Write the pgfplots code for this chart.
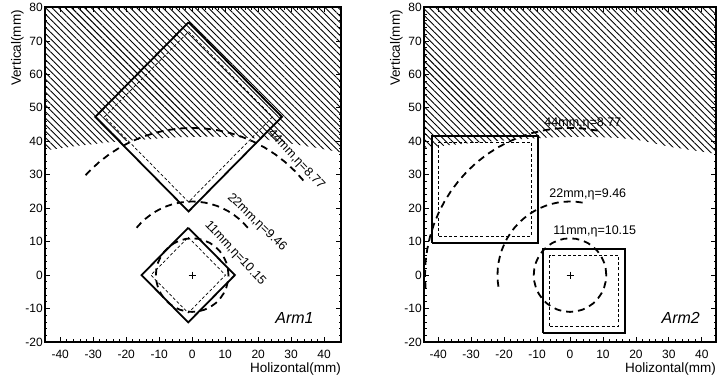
\documentclass[border=0pt]{standalone}
\usepackage{fontspec}
\setmainfont{Liberation Sans}
\usepackage{pgfplots}
\pgfplotsset{compat=1.18}
\usetikzlibrary{patterns.meta}

\pgfplotsset{
  armaxis/.style={
    scale only axis, height=334.5pt,
    ymin=-20, ymax=80,
    xtick={-40,-30,...,40}, ytick={-20,-10,...,80},
    minor x tick num=4, minor y tick num=4,
    tick align=inside, major tick length=5pt, minor tick length=2.5pt,
    every tick/.style={black, line width=0.8pt},
    axis line style={line width=2pt},
    /pgf/number format/assume math mode=true,
    ticklabel style={font=\fontsize{12}{14}\selectfont},
    xticklabel style={inner sep=0pt, yshift=-8pt},
    yticklabel style={inner sep=0pt, xshift=-2pt},
    xlabel={Holizontal(mm)}, ylabel={Vertical(mm)},
    xlabel style={at={(rel axis cs:1,0)}, anchor=north east, inner sep=0pt, yshift=-21pt, font=\fontsize{13.5}{16}\selectfont},
    ylabel style={at={(rel axis cs:0,1)}, rotate=0, anchor=east, inner sep=0pt, yshift=27.5pt, xshift=-2.5pt, font=\fontsize{13.5}{16}\selectfont},
    clip=true,
  },
  hatch/.style={draw=none, pattern={Lines[angle=-45,distance=4.6pt,line width=0.9pt]}},
  tower/.style={black, line width=1.8pt},
  fid/.style={black, line width=0.7pt, dash pattern=on 3pt off 2.2pt},
  ring/.style={black, line width=1.8pt, dash pattern=on 7pt off 5pt, data cs=polar},
}
\tikzset{
  lab/.style={font=\fontsize{12.5}{15}\selectfont, inner sep=0pt},
  armlab/.style={font=\fontsize{16}{19}\selectfont\itshape, inner sep=0pt},
}

\begin{document}
\begin{tikzpicture}
\path[use as bounding box] (-45pt,-43pt) rectangle (672pt,342pt);

% ---------------- Arm1 ----------------
\begin{axis}[armaxis, width=296pt, xmin=-44.6, xmax=45.1, at={(0pt,0pt)}, anchor=south west]
\addplot[hatch] coordinates {(-46,80) (-46,37.0) (-45,37.2) (-35,38.6) (-25,39.7) (-15,40.5) (-5,41.2) (5,41.4) (15,41.2) (22,40.6) (30,39.3) (38,38.0) (46,36.5) (46,80)};
% 40 mm tower (rotated)
\addplot[tower] coordinates {(-1.1,75.58) (27.18,47.3) (-1.1,19.02) (-29.38,47.3) (-1.1,75.58)};
\addplot[fid] coordinates {(-1.1,72.76) (24.36,47.3) (-1.1,21.84) (-26.56,47.3) (-1.1,72.76)};
% 20 mm tower (rotated)
\addplot[tower] coordinates {(-1.2,14.14) (12.94,0) (-1.2,-14.14) (-15.34,0) (-1.2,14.14)};
\addplot[fid] coordinates {(-1.2,11.31) (10.11,0) (-1.2,-11.31) (-12.51,0) (-1.2,11.31)};
% eta rings
\addplot[ring] coordinates {(40,44) (45,44) (50,44) (55,44) (60,44) (65,44) (70,44) (75,44) (80,44) (85,44) (90,44) (95,44) (100,44) (105,44) (110,44) (115,44) (120,44) (125,44) (130,44) (135,44) (138,44)};
\addplot[ring] coordinates {(40,22) (45,22) (50,22) (55,22) (60,22) (65,22) (70,22) (75,22) (80,22) (85,22) (90,22) (95,22) (100,22) (105,22) (110,22) (115,22) (120,22) (125,22) (130,22) (135,22) (140,22)};
\addplot[ring] coordinates {(0,11) (10,11) (20,11) (30,11) (40,11) (50,11) (60,11) (70,11) (80,11) (90,11) (100,11) (110,11) (120,11) (130,11) (140,11) (150,11) (160,11) (170,11) (180,11) (190,11) (200,11) (210,11) (220,11) (230,11) (240,11) (250,11) (260,11) (270,11) (280,11) (290,11) (300,11) (310,11) (320,11) (330,11) (340,11) (350,11) (360,11)};
\addplot[only marks, mark=+, mark size=3.5pt, black, mark options={line width=0.8pt}] coordinates {(0,0)};
\node[lab, rotate=-47] at (axis cs:31.5,34.5) {44mm,η=8.77};
\node[lab, rotate=-44] at (axis cs:19.6,15.7) {22mm,η=9.46};
\node[lab, rotate=-47] at (axis cs:13.0,6.5) {11mm,η=10.15};
\node[armlab] at (axis cs:31,-12.9) {Arm1};
\end{axis}

% ---------------- Arm2 ----------------
\begin{axis}[armaxis, width=292pt, xmin=-44.3, xmax=44.3, at={(379pt,0pt)}, anchor=south west]
\addplot[hatch] coordinates {(-46,80) (-46,37.8) (-45,38.0) (-35,39.0) (-25,39.9) (-15,40.6) (-5,41.2) (5,41.4) (15,41.0) (22,40.2) (30,38.4) (38,37.2) (46,36.0) (46,80)};
% 32 mm tower
\addplot[tower] coordinates {(-41.8,9.7) (-9.8,9.7) (-9.8,41.7) (-41.8,41.7) (-41.8,9.7)};
\addplot[fid] coordinates {(-39.8,11.7) (-11.8,11.7) (-11.8,39.7) (-39.8,39.7) (-39.8,11.7)};
% 25 mm tower
\addplot[tower] coordinates {(-8.2,-17.2) (16.8,-17.2) (16.8,7.8) (-8.2,7.8) (-8.2,-17.2)};
\addplot[fid] coordinates {(-6.2,-15.2) (14.8,-15.2) (14.8,5.8) (-6.2,5.8) (-6.2,-15.2)};
% eta rings
\addplot[ring] coordinates {(79,44) (85,44) (90,44) (95,44) (100,44) (105,44) (110,44) (115,44) (120,44) (125,44) (130,44) (135,44) (140,44) (145,44) (150,44) (155,44) (160,44) (165,44) (170,44) (175,44) (180,44) (185,44) (187,44)};
\addplot[ring] coordinates {(80,22) (85,22) (90,22) (95,22) (100,22) (105,22) (110,22) (115,22) (120,22) (125,22) (130,22) (135,22) (140,22) (145,22) (150,22) (155,22) (160,22) (165,22) (170,22) (175,22) (180,22) (185,22) (190,22)};
\addplot[ring] coordinates {(0,11) (10,11) (20,11) (30,11) (40,11) (50,11) (60,11) (70,11) (80,11) (90,11) (100,11) (110,11) (120,11) (130,11) (140,11) (150,11) (160,11) (170,11) (180,11) (190,11) (200,11) (210,11) (220,11) (230,11) (240,11) (250,11) (260,11) (270,11) (280,11) (290,11) (300,11) (310,11) (320,11) (330,11) (340,11) (350,11) (360,11)};
\addplot[only marks, mark=+, mark size=3.5pt, black, mark options={line width=0.8pt}] coordinates {(0,0)};
\node[lab] at (axis cs:3.9,45.4) {44mm,η=8.77};
\node[lab] at (axis cs:5.4,24.2) {22mm,η=9.46};
\node[lab] at (axis cs:7.5,13.0) {11mm,η=10.15};
\node[armlab] at (axis cs:33.6,-12.9) {Arm2};
\end{axis}
\end{tikzpicture}
\end{document}
